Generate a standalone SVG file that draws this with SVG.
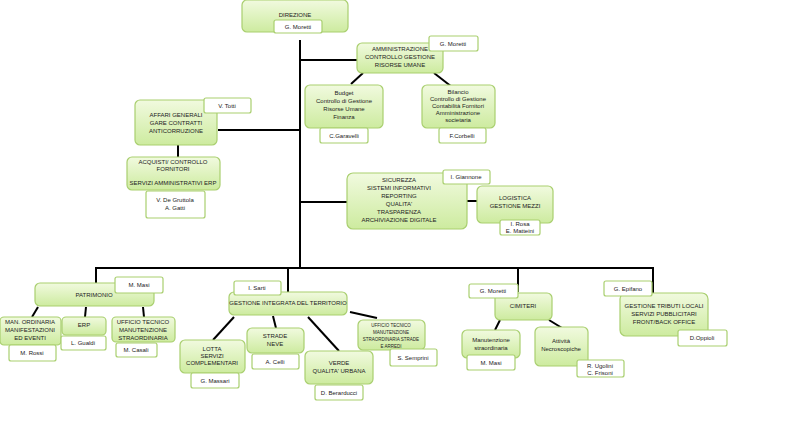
<svg xmlns="http://www.w3.org/2000/svg" width="788" height="423" viewBox="0 0 788 423">
<defs>
<linearGradient id="g" x1="0" y1="0" x2="0" y2="1"><stop offset="0" stop-color="#f1fadf"/><stop offset="1" stop-color="#cdeb9f"/></linearGradient>
<style>
.n{fill:url(#g);stroke:#a9cf6f;stroke-width:1.2}
.w{fill:#fff;stroke:#a9cf6f;stroke-width:1.2}
text{font-family:"Liberation Sans",Arial,sans-serif;font-size:6px;fill:#222;text-anchor:middle}
.c line{stroke:#000;stroke-width:2}
</style>
</defs>
<rect width="788" height="423" fill="#fff"/>
<g class="c">
<line x1="300" y1="40" x2="300" y2="269"/>
<line x1="300" y1="60" x2="357" y2="60"/>
<line x1="363" y1="73" x2="351" y2="84"/>
<line x1="434" y1="73" x2="452" y2="87"/>
<line x1="218" y1="130" x2="300" y2="130"/>
<line x1="178" y1="145" x2="178" y2="157"/>
<line x1="300" y1="202" x2="347" y2="202"/>
<line x1="467" y1="201" x2="477" y2="201"/>
<line x1="95" y1="268" x2="653" y2="268"/>
<line x1="96" y1="267" x2="96" y2="283"/>
<line x1="288" y1="267" x2="288" y2="293"/>
<line x1="518" y1="267" x2="518" y2="292"/>
<line x1="653" y1="267" x2="653" y2="293"/>
<line x1="38" y1="307" x2="32" y2="317"/>
<line x1="86" y1="307" x2="85" y2="317"/>
<line x1="143" y1="307" x2="144" y2="317"/>
<line x1="234" y1="317" x2="213" y2="340"/>
<line x1="273" y1="316" x2="276" y2="328"/>
<line x1="308" y1="317" x2="339" y2="351"/>
<line x1="350" y1="312" x2="377" y2="318"/>
<line x1="500" y1="320" x2="495" y2="330"/>
<line x1="549" y1="320" x2="562" y2="328"/>
</g>
<g id="direzione"><rect class="n" x="242" y="0" width="106" height="32" rx="5"/><text x="295" y="17">DIREZIONE</text><rect class="w" x="274" y="20" width="48" height="13" rx="2"/><text x="298" y="29">G. Moretti</text></g>
<g id="amministrazione"><rect class="n" x="357" y="43" width="86" height="30" rx="5"/><text x="400" y="51">AMMINISTRAZIONE</text><text x="400" y="59">CONTROLLO GESTIONE</text><text x="400" y="67">RISORSE UMANE</text><rect class="w" x="429" y="36" width="49" height="15" rx="2"/><text x="453" y="46">G. Moretti</text></g>
<g id="budget"><rect class="n" x="305" y="85" width="78" height="43" rx="5"/><text x="344" y="95">Budget</text><text x="344" y="103">Controllo di Gestione</text><text x="344" y="111">Risorse Umane</text><text x="344" y="119">Finanza</text><rect class="w" x="320" y="128" width="48" height="15" rx="2"/><text x="344" y="138">C.Garavelli</text></g>
<g id="bilancio"><rect class="n" x="422" y="85" width="73" height="43" rx="5"/><text x="458" y="94">Bilancio</text><text x="458" y="101">Controllo di Gestione</text><text x="458" y="108">Contabilità Fornitori</text><text x="458" y="115">Amministrazione</text><text x="458" y="122">societaria</text><rect class="w" x="439" y="128" width="47" height="15" rx="2"/><text x="462" y="138">F.Corbelli</text></g>
<g id="affari"><rect class="n" x="135" y="100" width="82" height="45" rx="5"/><text x="176" y="117">AFFARI GENERALI</text><text x="176" y="125">GARE CONTRATTI</text><text x="176" y="133">ANTICORRUZIONE</text><rect class="w" x="204" y="98" width="47" height="15" rx="2"/><text x="227" y="108">V. Totti</text></g>
<g id="acquisti"><rect class="n" x="127" y="157" width="93" height="33" rx="5"/><text x="173" y="164">ACQUISTI/ CONTROLLO</text><text x="173" y="171">FORNITORI</text><text x="173" y="185">SERVIZI AMMINISTRATIVI ERP</text><rect class="w" x="146" y="191" width="59" height="27" rx="2"/><text x="175" y="202">V. De Gruttola</text><text x="175" y="210">A. Gatti</text></g>
<g id="sicurezza"><rect class="n" x="347" y="173" width="120" height="56" rx="6"/><text x="399" y="182">SICUREZZA</text><text x="399" y="190">SISTEMI INFORMATIVI</text><text x="399" y="198">REPORTING</text><text x="399" y="206">QUALITA'</text><text x="399" y="214">TRASPARENZA</text><text x="399" y="222">ARCHIVIAZIONE DIGITALE</text><rect class="w" x="443" y="170" width="47" height="14" rx="2"/><text x="466" y="179">I. Giannone</text></g>
<g id="logistica"><rect class="n" x="477" y="186" width="76" height="37" rx="5"/><text x="515" y="200">LOGISTICA</text><text x="515" y="208">GESTIONE MEZZI</text><rect class="w" x="500" y="220" width="40" height="15" rx="2"/><text x="520" y="226">I. Rosa</text><text x="520" y="233">E. Matteini</text></g>
<g id="patrimonio"><rect class="n" x="35" y="283" width="119" height="23" rx="5"/><text x="94" y="297">PATRIMONIO</text><rect class="w" x="115" y="277" width="48" height="16" rx="2"/><text x="139" y="287">M. Masi</text></g>
<g id="manordinaria"><rect class="n" x="0" y="317" width="61" height="28" rx="4"/><text x="30" y="324">MAN. ORDINARIA</text><text x="30" y="332">MANIFESTAZIONI</text><text x="30" y="340">ED EVENTI</text><rect class="w" x="9" y="345" width="47" height="16" rx="2"/><text x="32" y="355">M. Rossi</text></g>
<g id="erp"><rect class="n" x="62" y="317" width="44" height="18" rx="4"/><text x="84" y="327">ERP</text><rect class="w" x="61" y="336" width="45" height="14" rx="2"/><text x="83" y="345">L. Gualdi</text></g>
<g id="uffpat"><rect class="n" x="112" y="317" width="63" height="25" rx="4"/><text x="143" y="324">UFFICIO TECNICO</text><text x="143" y="332">MANUTENZIONE</text><text x="143" y="340">STRAORDINARIA</text><rect class="w" x="116" y="343" width="41" height="14" rx="2"/><text x="136" y="352">M. Casali</text></g>
<g id="gestione"><rect class="n" x="229" y="292" width="118" height="23" rx="5"/><text x="288" y="305">GESTIONE INTEGRATA DEL TERRITORIO</text><rect class="w" x="234" y="281" width="47" height="14" rx="2"/><text x="257" y="290">I. Sarti</text></g>
<g id="lotta"><rect class="n" x="180" y="340" width="65" height="33" rx="5"/><text x="212" y="351">LOTTA</text><text x="212" y="358">SERVIZI</text><text x="212" y="365">COMPLEMENTARI</text><rect class="w" x="191" y="373" width="48" height="15" rx="2"/><text x="215" y="383">G. Massari</text></g>
<g id="strade"><rect class="n" x="247" y="328" width="57" height="25" rx="5"/><text x="275" y="338">STRADE</text><text x="275" y="346">NEVE</text><rect class="w" x="252" y="354" width="47" height="15" rx="2"/><text x="275" y="364">A. Celli</text></g>
<g id="verde"><rect class="n" x="305" y="351" width="68" height="33" rx="5"/><text x="339" y="365">VERDE</text><text x="339" y="373">QUALITA' URBANA</text><rect class="w" x="315" y="385" width="48" height="15" rx="2"/><text x="339" y="395">D. Berarducci</text></g>
<g id="uffgest"><rect class="n" x="358" y="320" width="67" height="30" rx="5"/><text x="391" y="327" style="font-size:4.5px">UFFICIO TECNICO</text><text x="391" y="334" style="font-size:4.5px">MANUTENZIONE</text><text x="391" y="341" style="font-size:4.5px">STRAORDINARIA STRADE</text><text x="391" y="348" style="font-size:4.5px">E ARREDI</text><rect class="w" x="390" y="349" width="47" height="17" rx="2"/><text x="413" y="360">S. Semprini</text></g>
<g id="cimiteri"><rect class="n" x="495" y="293" width="57" height="27" rx="5"/><text x="523" y="308">CIMITERI</text><rect class="w" x="469" y="284" width="49" height="14" rx="2"/><text x="493" y="293">G. Moretti</text></g>
<g id="manstr"><rect class="n" x="462" y="330" width="58" height="28" rx="5"/><text x="491" y="342">Manutenzione</text><text x="491" y="350">straordinaria</text><rect class="w" x="467" y="355" width="48" height="15" rx="2"/><text x="491" y="365">M. Masi</text></g>
<g id="necro"><rect class="n" x="535" y="327" width="53" height="39" rx="5"/><text x="561" y="343">Attività</text><text x="561" y="351">Necroscopiche</text><rect class="w" x="577" y="360" width="47" height="17" rx="2"/><text x="600" y="368">R. Ugolini</text><text x="600" y="375">C. Frisoni</text></g>
<g id="tributi"><rect class="n" x="620" y="293" width="88" height="43" rx="6"/><text x="664" y="308">GESTIONE TRIBUTI LOCALI</text><text x="664" y="316">SERVIZI PUBBLICITARI</text><text x="664" y="324">FRONT/BACK OFFICE</text><rect class="w" x="604" y="281" width="48" height="15" rx="2"/><text x="628" y="291">G. Epifano</text><rect class="w" x="678" y="330" width="49" height="16" rx="2"/><text x="702" y="340">D.Oppioli</text></g>
</svg>
